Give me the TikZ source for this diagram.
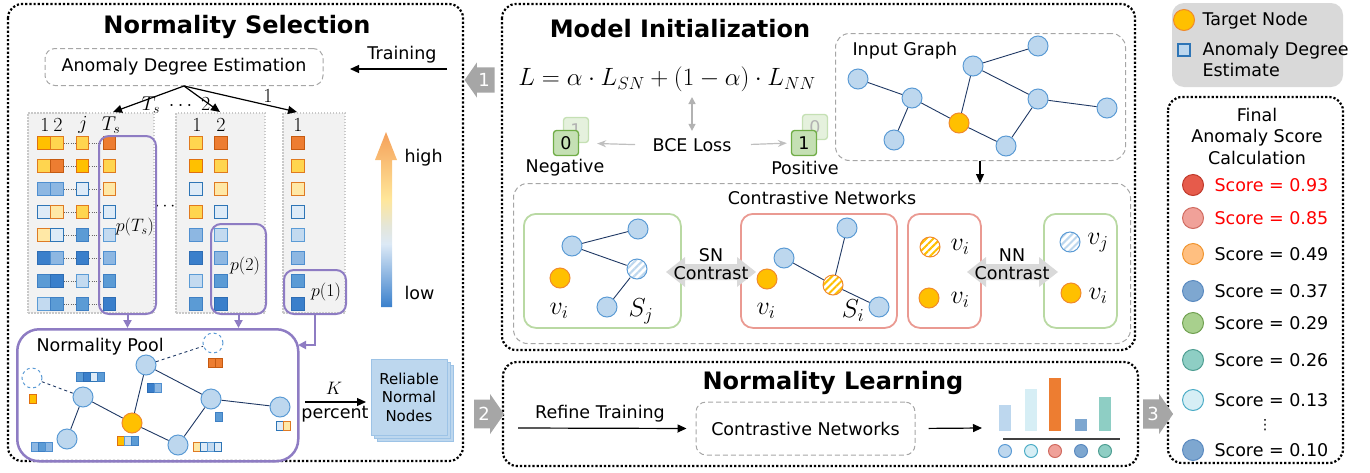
\RequirePackage{fix-cm}
\documentclass[tikz,border=0pt]{standalone}
\usepackage[no-math]{fontspec}
\setmainfont{DejaVu Sans}
\usetikzlibrary{arrows.meta, positioning, shapes.arrows, patterns.meta}

% graph colours
\definecolor{nodefill}{HTML}{BDD7EE}
\definecolor{nodedraw}{HTML}{5B9BD5}
\definecolor{tgtfill}{HTML}{FFC000}
\definecolor{tgtdraw}{HTML}{F08A2C}
\definecolor{edgeblue}{HTML}{1F3864}
\definecolor{poolpurple}{HTML}{8E7CC3}
\definecolor{colgray}{HTML}{F2F2F2}
\definecolor{coldots}{HTML}{C9C9C9}
\definecolor{dashgray}{HTML}{A6A6A6}
\definecolor{stepgray}{HTML}{A6A6A6}
\definecolor{contrastgray}{HTML}{D9D9D9}
\definecolor{legendgray}{HTML}{D9D9D9}
\definecolor{posgreen}{HTML}{B9D9A3}
\definecolor{negred}{HTML}{EA9A92}
\definecolor{binfill}{HTML}{C5E0B4}
\definecolor{bindraw}{HTML}{70AD47}
\definecolor{scorered}{HTML}{FF0000}
% square colours (fill / border)
\definecolor{oA}{HTML}{ED7D31}\definecolor{oAd}{HTML}{C55A11}
\definecolor{oB}{HTML}{FFC000}\definecolor{oBd}{HTML}{E07010}
\definecolor{oC}{HTML}{FFD54F}\definecolor{oCd}{HTML}{E07A1F}
\definecolor{oD}{HTML}{FFE8A6}\definecolor{oDd}{HTML}{DE7A24}
\definecolor{bA}{HTML}{DEEBF7}\definecolor{bAd}{HTML}{2E75B6}
\definecolor{bB}{HTML}{C3DAF0}\definecolor{bBd}{HTML}{5B9BD5}
\definecolor{bC}{HTML}{8DB7E2}\definecolor{bCd}{HTML}{4F8FD0}
\definecolor{bD}{HTML}{5B9BD5}\definecolor{bDd}{HTML}{3F80C4}
\definecolor{bE}{HTML}{3A7FCB}\definecolor{bEd}{HTML}{2E6DB4}
% score colours
\definecolor{sA}{HTML}{E65B4B}\definecolor{sAd}{HTML}{C0392B}
\definecolor{sB}{HTML}{F0A199}\definecolor{sBd}{HTML}{D06A60}
\definecolor{sC}{HTML}{FFBF80}\definecolor{sCd}{HTML}{F0942E}
\definecolor{sD}{HTML}{7EA7D0}\definecolor{sDd}{HTML}{5A8AC0}
\definecolor{sE}{HTML}{A8D08D}\definecolor{sEd}{HTML}{70A050}
\definecolor{sF}{HTML}{8ECEC4}\definecolor{sFd}{HTML}{4E9E92}
\definecolor{sG}{HTML}{D6EEF5}\definecolor{sGd}{HTML}{4BACC6}
\definecolor{sH}{HTML}{BDD7EE}\definecolor{sHd}{HTML}{5B9BD5}
\definecolor{sI}{HTML}{ED7D31}\definecolor{sId}{HTML}{ED7D31}
% heat bar
\definecolor{heatlow}{HTML}{3A80CC}
\definecolor{heatlight}{HTML}{DCE9F6}
\definecolor{heatmid}{HTML}{E4E6DA}
\definecolor{heatyel}{HTML}{FFE699}
\definecolor{heattop}{HTML}{F5A05A}
\pgfdeclareverticalshading{heatbar}{100bp}{color(0bp)=(heatlow); color(25bp)=(heatlow); color(43bp)=(heatlight); color(48bp)=(heatmid); color(56bp)=(heatyel); color(75bp)=(heattop); color(100bp)=(heattop)}

\newcommand{\poolstrip}[3]{%
  \foreach \c [count=\k] in {#3}
    \draw[sqc=\c, line width=.9pt] ({#1+7*(\k-1)-3.5},{#2-4.5}) rectangle ++(7,9);%
}
\newcommand{\contrastarrow}[3]{%
  \fill[contrastgray] (#1,#3) -- ++(19,-15) -- ++(0,7) -- ({#2-19},{#3-8}) -- ++(0,-7)
    -- (#2,#3) -- ++(-19,15) -- ++(0,-7) -- ({#1+19},{#3+8}) -- ++(0,7) -- cycle;%
}

\begin{document}
\begin{tikzpicture}[x=1pt, y=-1pt,
    every node/.style={font=\fontsize{17.5}{21}\selectfont},
    % panels and boxes
    panel/.style={draw, line width=2.2pt, dash pattern=on 2.2pt off 2pt, rounded corners=14pt},
    title/.style={font=\fontsize{24}{28}\selectfont\bfseries},
    dashbox/.style={draw=dashgray, line width=1pt, dash pattern=on 5pt off 3pt, rounded corners=10pt},
    colbox/.style={draw=coldots, fill=colgray, line width=1.4pt, dash pattern=on 1.5pt off 1.5pt},
    pbox/.style={draw=poolpurple, line width=2pt, rounded corners=10pt},
    gbox/.style={draw=posgreen, line width=1.8pt, rounded corners=12pt, anchor=north west, minimum height=114pt},
    rbox/.style={draw=negred, line width=1.8pt, rounded corners=12pt, anchor=north west, minimum height=114pt},
    stepbox/.style={single arrow, fill=stepgray, text=white, minimum height=30pt, minimum width=40pt,
      single arrow head extend=3pt, single arrow tip angle=110, inner sep=1pt, font=\fontsize{18}{20}\selectfont},
    % squares and graph nodes
    sq/.style={rectangle, minimum size=12.5pt, inner sep=0, line width=1.3pt},
    sqc/.style={fill=#1, draw=#1d},
    gnode/.style={circle, minimum size=20pt, inner sep=0, fill=nodefill, draw=nodedraw, line width=1pt},
    tnode/.style={gnode, fill=tgtfill, draw=tgtdraw},
    ghost/.style={gnode, fill=white, dashed},
    hatchB/.style={gnode, preaction={fill=white}, pattern={Lines[angle=45,distance=5pt,line width=2pt]}, pattern color=nodefill},
    hatchO/.style={gnode, draw=tgtdraw, preaction={fill=white}, pattern={Lines[angle=45,distance=5pt,line width=2pt]}, pattern color=tgtfill},
    gedge/.style={draw=edgeblue, line width=.9pt},
    binbox/.style={rectangle, rounded corners=3pt, minimum size=25pt, inner sep=0, fill=binfill, draw=bindraw, line width=1.3pt},
    binfade/.style={binbox, fill=binfill!45, draw=binfill, text=black!30},
    relbox/.style={rectangle, minimum size=76pt, fill=nodefill, draw=nodedraw!60, line width=1pt},
    scirc/.style={circle, minimum size=21pt, inner sep=0, line width=1pt},
    mathlbl/.style={font=\fontsize{20}{24}\selectfont},
    plbl/.style={font=\fontsize{18}{21}\selectfont},
    vlbl/.style={font=\fontsize{26}{30}\selectfont},
    % arrows
    arr/.style={-{Triangle[length=9pt, width=8pt]}, line width=1.2pt},
    parr/.style={-{Triangle[length=8pt, width=8pt]}, draw=poolpurple, line width=2pt},
    garr/.style={-{Stealth[length=9pt, width=7pt]}, draw=black!25, line width=1.2pt},
    gdarr/.style={{Triangle[length=7pt, width=7pt]}-{Triangle[length=7pt, width=7pt]}, draw=black!30, line width=1.4pt}
  ]
  \useasboundingbox (0,0) rectangle (1370,472);

  % outer panels
  \draw[panel] (8,4) rectangle (463,461);
  \draw[panel] (502,4) rectangle (1135,350);
  \draw[panel] (503,362) rectangle (1138,466);
  \draw[panel] (1168,97) rectangle (1343,463);
  \fill[legendgray, rounded corners=12pt] (1172,3) rectangle (1343,87);

  \node[title] (nstitle) at (237,27) {Normality Selection};
  \node[title] (mititle) at (680,29) {Model Initialization};
  \node[title] (nltitle) at (833,383) {Normality Learning};

  % step arrows
  \node[stepbox, shape border rotate=180, minimum width=35pt] (step1) at (484,80) {1};
  \node[stepbox] (step2) at (484,414) {2};
  \node[stepbox] (step3) at (1153,414) {3};

  % ---------- Normality Selection ----------
  \node[dashbox, minimum width=278pt, minimum height=37pt] (ade) at (184,67) {Anomaly Degree Estimation};
  \coordinate (trainin) at (447,69);
  \coordinate (trainout) at (350,69);
  \draw[arr] (trainin) -- (trainout);
  \node (training) at (402,55) {Training};

  \node[colbox, minimum width=126pt, minimum height=200pt] (colA) at (91,213) {};
  \node[colbox, minimum width=89pt, minimum height=200pt] (colB) at (220.5,213) {};
  \node[colbox, minimum width=62pt, minimum height=200pt] (colC) at (314,213) {};

  \coordinate (toTs) at (113,112);
  \coordinate (toTwo) at (220,112);
  \coordinate (toOne) at (297,112);
  \draw[arr] (ade.south) -- (toTs);
  \draw[arr] (ade.south) -- (toTwo);
  \draw[arr] (ade.south) -- (toOne);
  \node[mathlbl] (tslbl) at (176,105) {$T_s\;\cdots\;2$};
  \node[mathlbl] (onelbl) at (268,96) {$1$};

  \foreach \x/\t [count=\k] in {45/1,58/2,83/j,111/T_s,197/1,221/2,298/1}
    \node[mathlbl] (hd-\k) at (\x,125) {$\t$};

  % anomaly degree squares
  \foreach \c [count=\r] in {oB,oC,bC,bA,oD,bE,bD,bB}
    \node[sq, sqc=\c] (a1-\r) at (44,{143+23*(\r-1)}) {};
  \foreach \c [count=\r] in {oC,oA,bC,oD,bA,bC,bE,bD}
    \node[sq, sqc=\c] (a2-\r) at (57,{143+23*(\r-1)}) {};
  \foreach \c [count=\r] in {oC,oB,bA,oC,bD,bE,bB,bD}
    \node[sq, sqc=\c] (aj-\r) at (82.5,{143+23*(\r-1)}) {};
  \foreach \c [count=\r] in {oA,oC,oD,bA,bB,bC,bD,bE}
    \node[sq, sqc=\c] (ats-\r) at (109.5,{143+23*(\r-1)}) {};
  \foreach \c [count=\r] in {oC,oB,bA,oC,bC,bE,bB,bD}
    \node[sq, sqc=\c] (b1-\r) at (196,{143+23*(\r-1)}) {};
  \foreach \c [count=\r] in {oA,oC,oD,bA,bB,bC,bD,bE}
    \node[sq, sqc=\c] (b2-\r) at (221,{143+23*(\r-1)}) {};
  \foreach \c [count=\r] in {oA,oC,oD,bA,bB,bC,bD,bE}
    \node[sq, sqc=\c] (c1-\r) at (298,{143+23*(\r-1)}) {};
  \foreach \r in {1,...,8} {
    \draw[black!60, line width=.8pt, dash pattern=on 1pt off 1.2pt] (a2-\r.east) -- (aj-\r.west);
    \draw[black!60, line width=.8pt, dash pattern=on 1pt off 1.2pt] (aj-\r.east) -- (ats-\r.west);
  }
  \node (hdots) at (165,207) {$\cdots$};

  % selected parts
  \node[pbox, anchor=north west, minimum width=57pt, minimum height=178pt] (pTs) at (98,135) {};
  \node[pbox, anchor=north west, minimum width=55pt, minimum height=90pt] (pTwo) at (210,223) {};
  \node[pbox, anchor=north west, minimum width=62pt, minimum height=44pt] (pOne) at (283,269) {};
  \node[plbl] (pTslbl) at (135,227) {$p(T_s)$};
  \node[plbl] (pTwolbl) at (245,266) {$p(2)$};
  \node[plbl] (pOnelbl) at (326,292) {$p(1)$};

  % heat bar
  \shade[shading=heatbar] (381,307) -- (381,160) -- (375,160) -- (386,132) -- (397,160) -- (392,160) -- (392,307) -- cycle;
  \node[anchor=west] (high) at (401,158) {high};
  \node[anchor=west] (low) at (401,293) {low};

  % normality pool
  \node[pbox, line width=2.5pt, rounded corners=22pt, anchor=north west, minimum width=281pt, minimum height=132pt] (pool) at (16,328) {};
  \coordinate (poolin) at (298,345);
  \draw[parr] (pTs.south) -- (pTs.south |- pool.north);
  \draw[parr] (pTwo.south) -- (pTwo.south |- pool.north);
  \draw[parr] (pOne.south) |- (poolin);
  \node[anchor=west] (poollbl) at (33,347) {Normality Pool};

  \node[gnode] (pn1) at (146,365) {};
  \node[ghost] (pd2) at (32,378) {};
  \node[ghost] (pd3) at (213,343) {};
  \node[gnode] (pn4) at (83,397) {};
  \node[gnode] (pn5) at (211,399) {};
  \node[gnode] (pn6) at (280,407) {};
  \node[tnode] (ptg) at (132,423) {};
  \node[gnode] (pn7) at (67,439) {};
  \node[gnode] (pn8) at (178,445) {};
  \draw[gedge, dashed] (pd2) -- (pn4);
  \draw[gedge, dashed] (pn1) -- (pd3);
  \draw[gedge] (pn4) -- (ptg);
  \draw[gedge] (pn4) -- (pn7);
  \draw[gedge] (ptg) -- (pn1);
  \draw[gedge] (pn1) -- (pn5);
  \draw[gedge] (ptg) -- (pn8);
  \draw[gedge] (pn8) -- (pn5);
  \draw[gedge] (pn5) -- (pn6);

  \poolstrip{33}{399}{oB}
  \poolstrip{212}{363}{oA,oA}
  \poolstrip{79.5}{377}{bD,bE,bA,bD}
  \poolstrip{151}{388}{bE,bC}
  \poolstrip{219}{417}{bD}
  \poolstrip{280}{426}{bA,oD}
  \poolstrip{121}{441}{oB,bB,bD}
  \poolstrip{35}{447}{bC,bD,bC}
  \poolstrip{197}{447}{oD,bA,bB,bA}

  % reliable normal nodes
  \node[relbox] (rel3) at (415,403) {};
  \node[relbox] (rel2) at (412,400) {};
  \node[relbox, align=center, font=\fontsize{15}{18.5}\selectfont] (rel) at (409,397) {Reliable\\Normal\\Nodes};
  \coordinate (kstart) at (305,402);
  \coordinate (kend) at (366,402);
  \draw[arr] (kstart) -- (kend);
  \node[plbl] (klbl) at (334,388) {$K$};
  \node (pct) at (335,414) {percent};

  % ---------- Model Initialization ----------
  \node[font=\fontsize{25}{30}\selectfont] (loss) at (667,79) {$L=\alpha\cdot L_{SN}+(1-\alpha)\cdot L_{NN}$};
  \node (bce) at (692,145) {BCE Loss};
  \node[binfade] (negf) at (576,130) {1};
  \node[binbox] (neg) at (566,143) {0};
  \node[binfade] (posf) at (815,127) {0};
  \node[binbox] (pos) at (804,143) {1};
  \node (negl) at (565,168) {Negative};
  \node (posl) at (805,168) {Positive};
  \draw[gdarr, shorten <=4pt, shorten >=2pt] (bce.north) -- (bce.north |- loss.south);
  \draw[garr, shorten <=14pt, shorten >=18pt] (bce.west) -- (neg.east);
  \draw[garr, shorten <=16pt, shorten >=4pt] (bce.east) -- (pos.west);

  % input graph
  \node[dashbox, rounded corners=14pt, anchor=north west, minimum width=290pt, minimum height=127pt] (ig) at (835,33) {};
  \node[anchor=west] (iglbl) at (849,51) {Input Graph};
  \node[gnode] (g1) at (1038,46) {};
  \node[gnode] (g2) at (973,66) {};
  \node[gnode] (g3) at (858,79) {};
  \node[gnode] (g4) at (912,98) {};
  \node[gnode] (g5) at (1038,99) {};
  \node[gnode] (g6) at (1107,108) {};
  \node[tnode] (gt) at (959,123) {};
  \node[gnode] (g7) at (894,140) {};
  \node[gnode] (g8) at (1006,146) {};
  \draw[gedge] (g1) -- (g2);
  \draw[gedge] (g2) -- (gt);
  \draw[gedge] (g2) -- (g5);
  \draw[gedge] (g3) -- (g4);
  \draw[gedge] (g4) -- (gt);
  \draw[gedge] (g4) -- (g7);
  \draw[gedge] (gt) -- (g8);
  \draw[gedge] (g8) -- (g5);
  \draw[gedge] (g5) -- (g6);

  % contrastive networks
  \node[dashbox, rounded corners=14pt, anchor=north west, minimum width=617pt, minimum height=160pt] (cn) at (513,183) {};
  \coordinate (igx) at (980,0);
  \draw[arr] (ig.south -| igx) -- (cn.north -| igx);
  \node (cnlbl) at (822,198) {Contrastive Networks};

  \node[gbox, minimum width=157pt] (cb1) at (523,213) {};
  \node[rbox, minimum width=156pt] (cb2) at (740,213) {};
  \node[rbox, minimum width=73pt] (cb3) at (907,213) {};
  \node[gbox, minimum width=73pt] (cb4) at (1043,213) {};

  \contrastarrow{666}{756}{272}
  \contrastarrow{967}{1058}{272}
  \node[align=center, font=\fontsize{17.5}{18}\selectfont] (snlbl) at (711,264) {SN\\Contrast};
  \node[align=center, font=\fontsize{17.5}{18}\selectfont] (nnlbl) at (1012,264) {NN\\Contrast};

  \node[gnode] (c1a) at (572,246) {};
  \node[gnode] (c1b) at (638,229) {};
  \node[hatchB] (c1h) at (637,269) {};
  \node[gnode] (c1c) at (607,307) {};
  \node[tnode] (c1v) at (560,278) {};
  \draw[gedge] (c1a) -- (c1b);
  \draw[gedge] (c1a) -- (c1h);
  \draw[gedge] (c1h) -- (c1c);
  \node[vlbl] (c1vl) at (559,311) {$v_i$};
  \node[vlbl] (c1sl) at (641,311) {$S_j$};

  \node[gnode] (c2t) at (847,228) {};
  \node[gnode] (c2l) at (784,258) {};
  \node[hatchO] (c2h) at (833,285) {};
  \node[gnode] (c2b) at (879,307) {};
  \node[tnode] (c2v) at (767,279) {};
  \draw[gedge] (c2t) -- (c2h);
  \draw[gedge] (c2l) -- (c2h);
  \draw[gedge] (c2h) -- (c2b);
  \node[vlbl] (c2vl) at (766,311) {$v_i$};
  \node[vlbl] (c2sl) at (853,311) {$S_i$};

  \node[hatchO] (c3h) at (930,247) {};
  \node[vlbl] (c3hl) at (960,247) {$v_i$};
  \node[tnode] (c3v) at (929,298) {};
  \node[vlbl] (c3vl) at (960,300) {$v_i$};

  \node[hatchB] (c4h) at (1070,242) {};
  \node[vlbl] (c4hl) at (1098,243) {$v_j$};
  \node[tnode] (c4v) at (1071,293) {};
  \node[vlbl] (c4vl) at (1098,296) {$v_i$};

  % ---------- Normality Learning ----------
  \node[dashbox, minimum width=219pt, minimum height=53pt] (cnl) at (805.5,428.5) {Contrastive Networks};
  \coordinate (rtin) at (518,428);
  \draw[arr, shorten >=9pt] (rtin) -- (cnl.west);
  \node (rt) at (600,414) {Refine Training};
  \coordinate (barin) at (982,428);
  \draw[arr, shorten <=13pt] (cnl.east) -- (barin);

  \foreach \x/\t/\c in {1005/405/sH, 1031/389/sG, 1055/378/sI, 1081/419/sD, 1105/397/sF}
    \fill[\c] (\x-6.25,431) rectangle (\x+6.25,\t);
  \draw[line width=1.3pt, black!75] (1003,439) -- (1120,439);
  \foreach \x/\c [count=\k] in {1005/sH, 1031/sG, 1055/sB, 1081/sD, 1105/sF}
    \node[scirc, minimum size=13pt, fill=\c, draw=\c d] (bc-\k) at (\x,451) {};

  % ---------- legend ----------
  \node[tnode, minimum size=21pt] (legt) at (1184,20) {};
  \node[anchor=west] (legtl) at (1199,21) {Target Node};
  \node[sq, fill=nodefill, draw=bAd, minimum size=12pt] (legsq) at (1184,50) {};
  \node[anchor=west, align=left, font=\fontsize{17.5}{21}\selectfont] (legsl) at (1199,59) {Anomaly Degree\\Estimate};

  % ---------- final anomaly score ----------
  \node[align=center, font=\fontsize{17.5}{21.5}\selectfont] (fintitle) at (1257,136) {Final\\Anomaly Score\\Calculation};
  \foreach \y/\c/\v/\tc [count=\k] in {185/sA/0.93/scorered, 218/sB/0.85/scorered, 254/sC/0.49/black,
      291/sD/0.37/black, 323/sE/0.29/black, 360/sF/0.26/black, 400/sG/0.13/black, 450/sD/0.10/black} {
    \node[scirc, fill=\c, draw=\c d] (sc-\k) at (1193,\y) {};
    \node[anchor=west, text=\tc] (st-\k) at (1211,\y) {Score = \v};
  }
  \node[font=\fontsize{14}{16}\selectfont] (scdots) at (1265,425) {⋮};
\end{tikzpicture}
\end{document}
